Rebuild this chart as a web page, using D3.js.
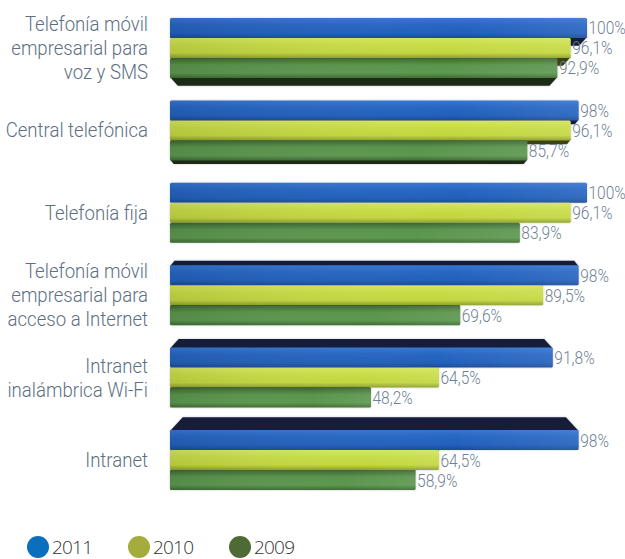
<!DOCTYPE html>
<html>
<head>
<meta charset="utf-8">
<script src="https://cdn.jsdelivr.net/npm/d3@7"></script>
<style>
  html, body { margin: 0; padding: 0; background: #ffffff; }
  svg { display: block; }
</style>
</head>
<body>
<svg id="chart" width="625" height="559"></svg>
<script>
// Categories (line breaks mark wrapped labels)
const categories = [
  "Telefonía móvil\nempresarial para\nvoz y SMS",
  "Central telefónica",
  "Telefonía fija",
  "Telefonía móvil\nempresarial para\nacceso a Internet",
  "Intranet\ninalámbrica Wi-Fi",
  "Intranet"
];
const years = ["2011", "2010", "2009"];
const values2011 = [100, 98, 100, 98, 91.8, 98];
const values2010 = [96.1, 96.1, 96.1, 89.5, 64.5, 64.5];
const values2009 = [92.9, 85.7, 83.9, 69.6, 48.2, 58.9];

const seriesValues = { "2011": values2011, "2010": values2010, "2009": values2009 };

const svg = d3.select("#chart");
const defs = svg.append("defs");

// Bar styling per series: gradient stops for the front face, colour of the depth face
const style = {
  "2011": { stops: ["#3576cf", "#2766c3", "#2360bb", "#1a4b96"], depth: "#171d3a", legend: "#0b6fbd" },
  "2010": { stops: ["#d4e560", "#c8dc46", "#c2d640", "#8e9f2c"], depth: "#3a4318", legend: "#a4ac3b" },
  "2009": { stops: ["#3b6532", "#5a944d", "#5c984f", "#3e6b33"], depth: "#1c2919", legend: "#4f6b35" }
};

years.forEach(y => {
  const g = defs.append("linearGradient")
    .attr("id", "grad" + y).attr("x1", 0).attr("y1", 0).attr("x2", 0).attr("y2", 1);
  const s = style[y].stops;
  [[0, s[0]], [0.35, s[1]], [0.75, s[2]], [1, s[3]]].forEach(([o, c]) =>
    g.append("stop").attr("offset", o).attr("stop-color", c));
});
// slight shading toward the right end of the bars
const sheen = defs.append("linearGradient")
  .attr("id", "sheen").attr("x1", 0).attr("y1", 0).attr("x2", 1).attr("y2", 0);
sheen.append("stop").attr("offset", 0).attr("stop-color", "#000").attr("stop-opacity", 0.08);
sheen.append("stop").attr("offset", 0.7).attr("stop-color", "#fff").attr("stop-opacity", 0.0);
sheen.append("stop").attr("offset", 1).attr("stop-color", "#fff").attr("stop-opacity", 0.08);

const shadow = defs.append("filter").attr("id", "soft")
  .attr("x", "-5%").attr("y", "-20%").attr("width", "110%").attr("height", "140%");
shadow.append("feDropShadow").attr("dx", 0).attr("dy", 0).attr("stdDeviation", 1.2)
  .attr("flood-color", "#000").attr("flood-opacity", 0.22);

// Scales
const x = d3.scaleLinear().domain([0, 100]).range([170, 587]);
const y = d3.scaleBand().domain(categories).range([18, 490]).paddingInner(0.272).paddingOuter(0);
const ySub = d3.scaleBand().domain(years).range([0, y.bandwidth()]).padding(0);

// perspective: groups above the eye line show their underside, below it their top face
const eyeY = 205, depthK = 0.05;
const depthOf = c => (y(c) + y.bandwidth() / 2 - eyeY) * depthK;

const fmt = v => String(v).replace(".", ",") + "%";

// condensed look for the light sans labels
const labelFont = "Roboto, 'Noto Sans', sans-serif";

const groups = svg.append("g").selectAll("g.group")
  .data(categories).join("g")
  .attr("class", "group")
  .attr("filter", "url(#soft)");

groups.each(function (cat, ci) {
  const g = d3.select(this);
  const d = depthOf(cat);
  const x0 = x(0);
  const bars = years.map(yr => ({
    yr, v: seriesValues[yr][ci],
    top: y(cat) + ySub(yr), h: ySub.bandwidth()
  }));

  // depth faces (drawn first so the fronts cover them)
  const faceOrder = d > 0 ? bars.slice().reverse() : bars;
  faceOrder.forEach(b => {
    const x1 = x(b.v);
    const a = Math.abs(d);
    if (a < 0.8) return;
    let pts;
    if (d < 0) {
      const yb = b.top + b.h;
      pts = [[x0, yb - 1], [x1, yb - 1], [x1 - a, yb + a], [x0 + a, yb + a]];
    } else {
      const yt = b.top;
      pts = [[x0, yt + 1], [x1, yt + 1], [x1 - a, yt - a], [x0 + a, yt - a]];
    }
    g.append("path")
      .attr("d", d3.line().curve(d3.curveLinearClosed)(pts))
      .attr("fill", style[b.yr].depth);
  });

  // front faces
  bars.forEach(b => {
    g.append("rect")
      .attr("x", x0).attr("y", b.top)
      .attr("width", x(b.v) - x0).attr("height", b.h)
      .attr("rx", 1.5)
      .attr("fill", `url(#grad${b.yr})`);
    g.append("rect")
      .attr("x", x0).attr("y", b.top)
      .attr("width", x(b.v) - x0).attr("height", b.h)
      .attr("rx", 1.5)
      .attr("fill", "url(#sheen)");
  });
});

// value labels
const labelLayer = svg.append("g");
categories.forEach((cat, ci) => {
  years.forEach(yr => {
    const v = seriesValues[yr][ci];
    labelLayer.append("g")
      .attr("transform", `translate(${x(v) + 1.5},${y(cat) + ySub(yr) + ySub.bandwidth() / 2 + 6.5}) scale(0.84,1)`)
      .append("text")
      .attr("font-family", labelFont)
      .attr("font-weight", 300)
      .attr("font-size", 18.5)
      .attr("fill", "#6f8295")
      .text(fmt(v));
  });
});

// category labels
const catLayer = svg.append("g");
categories.forEach(cat => {
  const lines = cat.split("\n");
  const lh = 24;
  const cy = y(cat) + y.bandwidth() / 2;
  const t = catLayer.append("g")
    .attr("transform", `translate(148,0) scale(0.93,1)`)
    .append("text")
    .attr("text-anchor", "end")
    .attr("font-family", labelFont)
    .attr("font-weight", 300)
    .attr("font-size", 20)
    .attr("fill", "#5d6f82");
  lines.forEach((ln, i) => {
    t.append("tspan")
      .attr("x", 0)
      .attr("y", cy - (lines.length - 1) * lh / 2 + i * lh + 7)
      .text(ln);
  });
});

// legend
const legend = svg.append("g").attr("transform", "translate(38,547)");
const lx = d3.scalePoint().domain(years).range([0, 202]);
years.forEach(yr => {
  const item = legend.append("g").attr("transform", `translate(${lx(yr)},0)`);
  item.append("circle").attr("r", 11).attr("fill", style[yr].legend);
  item.append("text")
    .attr("x", 14).attr("y", 7)
    .attr("font-family", "'Open Sans', sans-serif")
    .attr("font-weight", 300)
    .attr("font-size", 19)
    .attr("letter-spacing", -0.8)
    .attr("fill", "#333")
    .text(yr);
});
</script>
</body>
</html>
